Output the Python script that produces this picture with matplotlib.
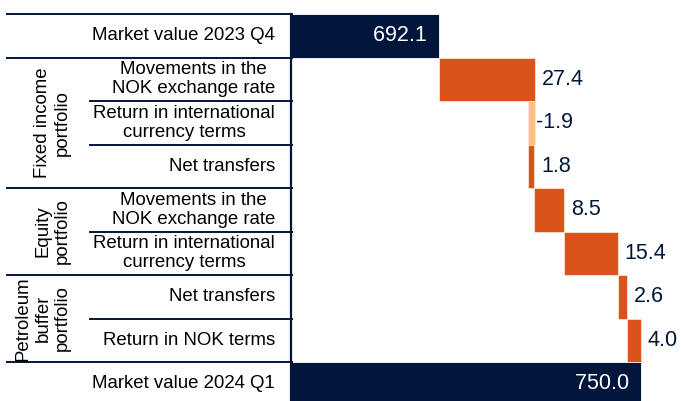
import matplotlib
matplotlib.use("Agg")
import matplotlib.pyplot as plt
from matplotlib.transforms import blended_transform_factory
from matplotlib.lines import Line2D

plt.rcParams['font.family'] = ['Liberation Sans', 'DejaVu Sans']

# ---- data ----
row_labels = [
    "Market value 2023 Q4",
    "Movements in the\nNOK exchange rate",
    "Return in international\ncurrency terms",
    "Net transfers",
    "Movements in the\nNOK exchange rate",
    "Return in international\ncurrency terms",
    "Net transfers",
    "Return in NOK terms",
    "Market value 2024 Q1",
]
group_labels = ["Fixed income\nportfolio", "Equity\nportfolio", "Petroleum\nbuffer\nportfolio"]
group_sizes = [3, 2, 2]
start_value = 692.1
changes = [27.4, -1.9, 1.8, 8.5, 15.4, 2.6, 4.0]
end_value = 750.0

NAVY = "#01163A"
ORANGE = "#D9531B"
LIGHT_ORANGE = "#FDBF86"

W, H = 681, 401
fig = plt.figure(figsize=(W / 100, H / 100), dpi=100)

ax_left_px, ax_right_px = 291, 681
ax_top_px, ax_bot_px = 14, 405.5
ax = fig.add_axes([ax_left_px / W, 1 - ax_bot_px / H,
                   (ax_right_px - ax_left_px) / W, (ax_bot_px - ax_top_px) / H])
px_per_unit = 3.504
xmin = 650
ax.set_xlim(xmin, xmin + (ax_right_px - ax_left_px) / px_per_unit)
n = len(row_labels)
ax.set_ylim(n - 0.5, -0.5)

# totals
ax.barh(0, start_value, height=1.0, color=NAVY, edgecolor="white", linewidth=0.6)
ax.barh(n - 1, end_value, height=1.0, color=NAVY, edgecolor="white", linewidth=0.6)
ax.text(start_value, 0, f"{start_value:.1f}  ", ha="right", va="center",
        color="white", fontsize=15.5)
ax.text(end_value, n - 1, f"{end_value:.1f}  ", ha="right", va="center",
        color="white", fontsize=15.5)

cum = start_value
for i, c in enumerate(changes):
    y = i + 1
    left = cum if c >= 0 else cum + c
    color = ORANGE if c >= 0 else LIGHT_ORANGE
    ax.barh(y, abs(c), left=left, height=1.0, color=color,
            edgecolor="#FBE3D6", linewidth=0.6)
    right_end = left + abs(c)
    off = 5 if c >= 0 else 1
    ax.annotate(f"{c:.1f}", xy=(right_end, y), xytext=(off, 0),
                textcoords="offset points", ha="left", va="center",
                color=NAVY, fontsize=15.5)
    cum += c

for s in ["top", "right", "bottom"]:
    ax.spines[s].set_visible(False)
ax.spines["left"].set_color(NAVY)
ax.spines["left"].set_linewidth(1.6)
ax.set_xticks([])
ax.set_yticks([])

# ---- left table ----
tr = blended_transform_factory(fig.transFigure, ax.transData)
x_outer = 7 / W
x_inner = 90 / W
x_end = 292 / W

group_bounds = [0]
acc = 1
for g in group_sizes:
    group_bounds.append(acc)
    acc += g
group_bounds.append(acc)

for i in range(n):
    b = i - 0.5
    if i in group_bounds:
        x0 = x_outer
    else:
        x0 = x_inner
    fig.add_artist(Line2D([x0, x_end], [b, b], transform=tr, color=NAVY,
                          linewidth=1.4, clip_on=False))

for i, lab in enumerate(row_labels):
    fig.text(275 / W, i, lab, transform=tr, ha="right", va="center",
             multialignment="center", fontsize=13.4, color="black",
             linespacing=1.15)

acc = 1
for g, lab in zip(group_sizes, group_labels):
    yc = acc + (g - 1) / 2
    fig.text(71 / W, yc, lab, transform=tr, ha="right", va="center",
             rotation=90, multialignment="center", fontsize=13.4,
             color="black", linespacing=1.2)
    acc += g

fig.savefig("out.png", dpi=100)
